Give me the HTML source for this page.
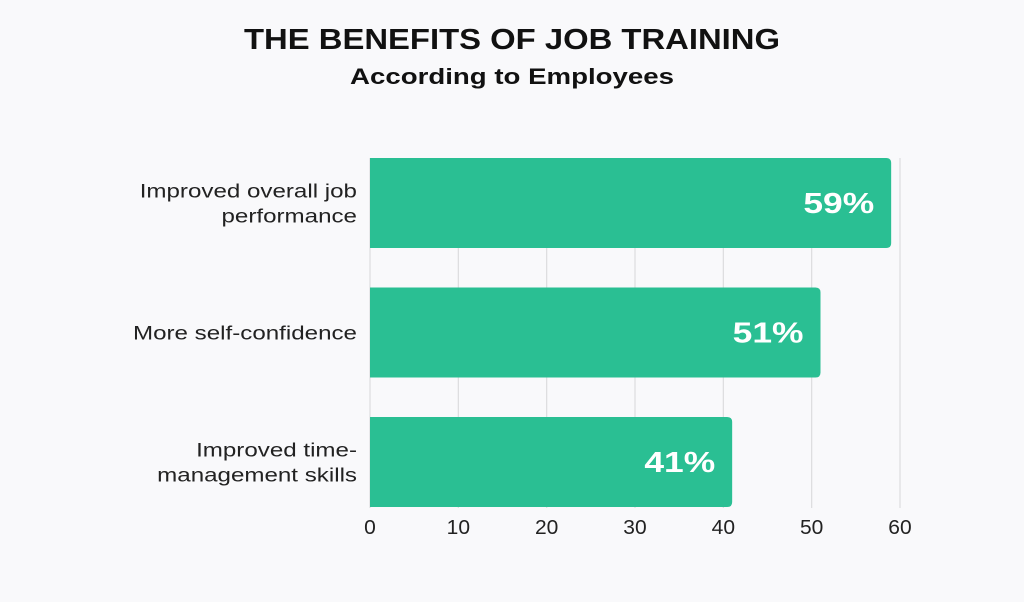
<!DOCTYPE html>
<html><head><meta charset="utf-8"><style>
body{margin:0;background:#f9f9fb;width:1024px;height:597px;overflow:hidden;font-family:"Liberation Sans",sans-serif;}
</style></head><body>
<svg width="1024" height="597">
<rect width="1024" height="597" fill="#f9f9fb"/>
<text x="512" y="49" text-anchor="middle" font-size="29" font-weight="bold" fill="#111" textLength="536" lengthAdjust="spacingAndGlyphs">THE BENEFITS OF JOB TRAINING</text>
<text x="512" y="84" text-anchor="middle" font-size="22" font-weight="bold" fill="#111" textLength="324" lengthAdjust="spacingAndGlyphs">According to Employees</text>
<g id="grid"></g><g id="bars"></g><g id="ticks"></g><g id="cats"></g>
</svg>
<script>
const categories=[["Improved overall job","performance"],["More self-confidence"],["Improved time-","management skills"]];
const values=[59,51,41];
const ticks=[0,10,20,30,40,50,60];
const ns="http://www.w3.org/2000/svg";
const x0=370,x1=900,xmax=60;
const xs=v=>x0+(v/xmax)*(x1-x0);
const top0=158,band=129.5,bh=90;
function mk(t,a,p){const e=document.createElementNS(ns,t);for(const k in a)e.setAttribute(k,a[k]);p.appendChild(e);return e;}
function stretch(e,f){const w=e.getComputedTextLength();e.setAttribute('textLength',w*f);e.setAttribute('lengthAdjust','spacingAndGlyphs');}
const g=document.getElementById('grid'),b=document.getElementById('bars'),tk=document.getElementById('ticks'),c=document.getElementById('cats');
ticks.forEach(t=>{
 const l=mk('line',{x1:xs(t),x2:xs(t),y1:158,y2:508,stroke:'#dcdcde','stroke-width':1.2},g);
 
 
 const tx=mk('text',{x:xs(t),y:534,'text-anchor':'middle','font-size':20,fill:'#222'},tk);
 tx.textContent=t;
 
 
 stretch(tx,1.05);
});
values.forEach((v,i)=>{
 const y=top0+i*band;
 const w=xs(v)-x0;
 const r=mk('path',{d:`M${x0},${y}H${x0+w-5}Q${x0+w},${y} ${x0+w},${y+5}V${y+bh-5}Q${x0+w},${y+bh} ${x0+w-5},${y+bh}H${x0}Z`,fill:'#2abf93'},b);
 
 
 const t=mk('text',{x:x0+w-17,y:y+bh/2+10,'text-anchor':'end','font-size':29,'font-weight':'bold',fill:'#fff'},b);
 t.textContent=v+'%';
 
 
 stretch(t,1.22);
 const lines=categories[i];
 lines.forEach((ln,j)=>{
  const ct=mk('text',{x:357,y:y+bh/2+7+(j-(lines.length-1)/2)*25,'text-anchor':'end','font-size':19,fill:'#222'},c);
  ct.textContent=ln;
  
  
  stretch(ct,1.27);
 });
});
</script>
</body></html>
